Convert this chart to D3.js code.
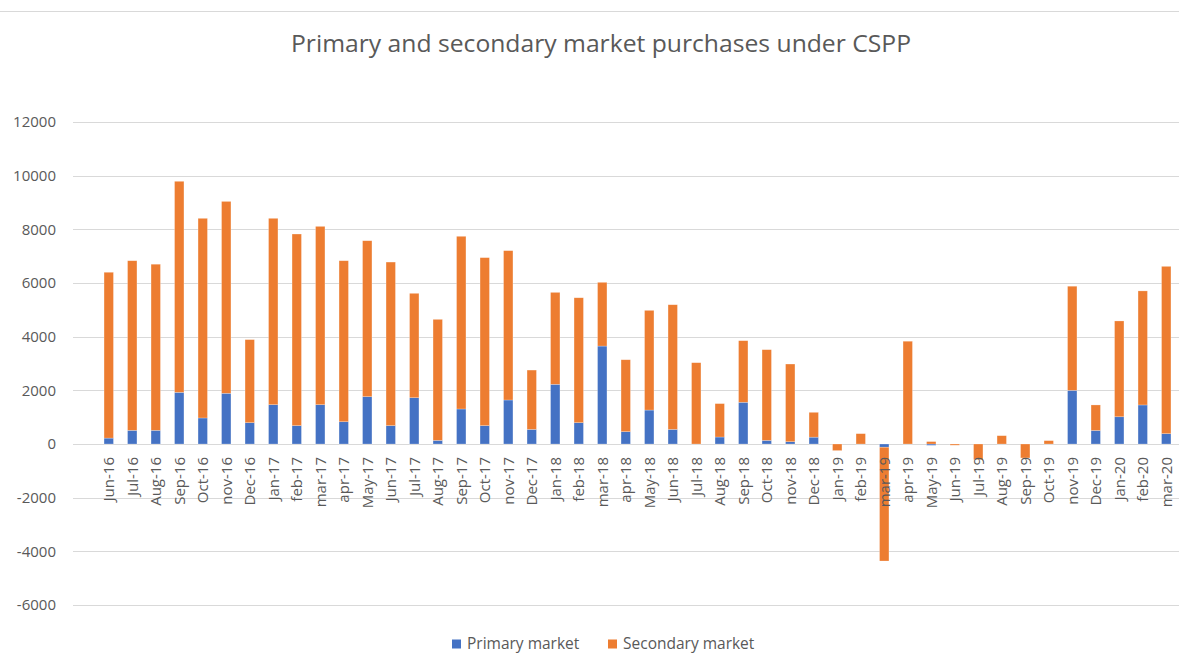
<!DOCTYPE html>
<html>
<head>
<meta charset="utf-8">
<script src="https://cdn.jsdelivr.net/npm/d3@7"></script>
<style>
  body { margin: 0; background: #fff; }
  text { font-family: "Open Sans", "DejaVu Sans", sans-serif; fill: #595959; }
</style>
</head>
<body>
<script>
// months shown on the category axis
const months = ["Jun-16","Jul-16","Aug-16","Sep-16","Oct-16","nov-16","Dec-16",
  "Jan-17","feb-17","mar-17","apr-17","May-17","Jun-17","Jul-17","Aug-17","Sep-17","Oct-17","nov-17","Dec-17",
  "Jan-18","feb-18","mar-18","apr-18","May-18","Jun-18","Jul-18","Aug-18","Sep-18","Oct-18","nov-18","Dec-18",
  "Jan-19","feb-19","mar-19","apr-19","May-19","Jun-19","Jul-19","Aug-19","Sep-19","Oct-19","nov-19","Dec-19",
  "Jan-20","feb-20","mar-20"];

const primary = [220,510,510,1925,970,1890,795,
  1465,685,1465,830,1765,685,1725,135,1305,685,1640,545,
  2225,795,3650,460,1265,545,0,260,1555,135,85,255,
  0,0,-120,0,-50,0,0,0,0,0,2000,505,
  1015,1455,385];

const secondary = [6180,6320,6190,7865,7440,7150,3095,
  6945,7140,6645,6000,5810,6095,3890,4510,6435,6260,5565,2210,
  3425,4655,2375,2680,3715,4645,3030,1245,2295,3380,2895,925,
  -245,385,-4240,3830,90,-45,-580,310,-520,125,3880,950,
  3570,4250,6235];

const yTicks = [-6000,-4000,-2000,0,2000,4000,6000,8000,10000,12000];
const seriesNames = ["Primary market","Secondary market"];
const colors = ["#4472C4","#ED7D31"];

const width = 1179, height = 653;

const svg = d3.select("body").append("svg")
    .attr("width", width)
    .attr("height", height);

// thin sheet border at the top of the screenshot
svg.append("line")
    .attr("x1", 0).attr("x2", width)
    .attr("y1", 11.5).attr("y2", 11.5)
    .attr("stroke", "#d9d9d9");

svg.append("text")
    .attr("x", 601)
    .attr("y", 52)
    .attr("text-anchor", "middle")
    .attr("textLength", 620)
    .attr("lengthAdjust", "spacingAndGlyphs")
    .style("font-size", "24px")
    .text("Primary and secondary market purchases under CSPP");

const y = d3.scaleLinear().domain([-6000, 12000]).range([605, 122]);
const x = d3.scaleBand().domain(months).range([97, 1178])
    .paddingInner(0.6).paddingOuter(0.3);

// gridlines
svg.append("g").selectAll("line")
    .data(yTicks)
    .enter().append("line")
    .attr("x1", 73).attr("x2", width)
    .attr("y1", d => Math.round(y(d)) + 0.5)
    .attr("y2", d => Math.round(y(d)) + 0.5)
    .attr("stroke", "#d9d9d9");

// y labels
svg.append("g").selectAll("text")
    .data(yTicks)
    .enter().append("text")
    .attr("x", 56)
    .attr("y", d => y(d))
    .attr("dy", "0.35em")
    .attr("text-anchor", "end")
    .style("font-size", "15px")
    .text(d => d);

const rows = months.map((m, i) => ({month: m, p: primary[i], s: secondary[i]}));
const stacked = d3.stack().keys(["p", "s"]).offset(d3.stackOffsetDiverging)(rows);

svg.append("g").selectAll("g")
    .data(stacked)
    .enter().append("g")
    .attr("fill", (d, i) => colors[i])
    .selectAll("rect")
    .data(d => d)
    .enter().append("rect")
    .attr("x", d => x(d.data.month))
    .attr("width", x.bandwidth())
    .attr("y", d => y(Math.max(d[0], d[1])))
    .attr("height", d => Math.abs(y(d[0]) - y(d[1])))
    .attr("stroke", "#fff")
    .attr("stroke-opacity", 0.4)
    .attr("stroke-width", 0.6);

// category labels, rotated
svg.append("g").selectAll("text")
    .data(months)
    .enter().append("text")
    .attr("transform", d => "translate(" + (x(d) + x.bandwidth() / 2) + ",457) rotate(-90)")
    .attr("dy", "0.35em")
    .attr("text-anchor", "end")
    .style("font-size", "15px")
    .text(d => d);

// legend
const legendX = [452, 608];
const legend = svg.append("g").selectAll("g")
    .data(seriesNames)
    .enter().append("g")
    .attr("transform", (d, i) => "translate(" + legendX[i] + ",644)");
legend.append("rect")
    .attr("x", 0).attr("y", -4.5)
    .attr("width", 9).attr("height", 9)
    .attr("fill", (d, i) => colors[i]);
legend.append("text")
    .attr("x", 15)
    .attr("dy", "0.35em")
    .style("font-size", "15.5px")
    .text(d => d);
</script>
</body>
</html>
